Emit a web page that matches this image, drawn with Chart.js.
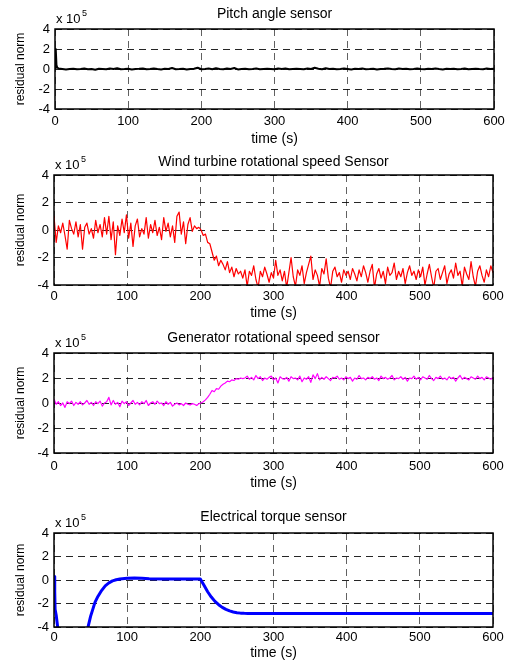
<!DOCTYPE html>
<html><head><meta charset="utf-8">
<script src="https://cdn.jsdelivr.net/npm/chart.js@4.4.1/dist/chart.umd.min.js"></script>
<style>
html,body{margin:0;padding:0;background:#fff;}
#wrap{position:relative;width:512px;height:662px;overflow:hidden;}
canvas{position:absolute;left:0;display:block;}
</style></head><body>
<div id="wrap">
<canvas id="c1" width="512" height="148" style="top:0px"></canvas>
<canvas id="c2" width="512" height="177" style="top:148px"></canvas>
<canvas id="c3" width="512" height="175" style="top:325px"></canvas>
<canvas id="c4" width="512" height="162" style="top:500px"></canvas>
</div>
<script>
// ---------------- DATA (values in units of 10^5) ----------------
const titles = ["Pitch angle sensor", "Wind turbine rotational speed Sensor", "Generator rotational speed sensor", "Electrical torque sensor"];
const xTicks = [0, 100, 200, 300, 400, 500, 600];
const yTicks = [-4, -2, 0, 2, 4];
const xLabel = "time (s)";
const yLabel = "residual norm";

// Pitch angle sensor: initial spike then flat noise
const pitchSpikeTime = [0, 1, 2, 3];
const pitchSpikeValue = [0.1, 2.0, 0.4, 0.15];
const pitchNoiseStart = 5, pitchNoiseStep = 5;
const pitchNoise = [
 0.05,0.0,-0.05,0.0,0.03,-0.03,0.0,0.05,-0.02,0.0,
 -0.08,0.02,0.0,-0.03,0.05,0.0,0.08,-0.02,0.0,0.03,
 -0.05,0.0,0.02,0.05,-0.03,0.0,0.06,0.0,-0.04,0.02,
 0.0,0.1,-0.02,0.0,0.03,-0.05,0.0,0.02,0.12,-0.03,
 0.0,0.04,-0.02,0.08,0.0,-0.03,0.05,0.0,0.1,-0.04,
 0.0,0.03,-0.02,0.0,0.05,-0.03,0.0,0.02,0.0,-0.02,
 0.04,0.0,0.06,-0.03,0.0,0.02,0.0,-0.02,0.05,0.0,
 0.12,0.03,-0.02,0.08,0.0,0.02,-0.03,0.0,0.04,0.0,
 -0.04,0.02,0.0,0.05,-0.02,0.0,0.03,-0.05,0.0,0.02,
 0.06,0.0,-0.03,0.04,0.0,0.02,-0.02,0.0,0.05,0.0,
 -0.03,0.02,0.0,0.06,0.0,-0.04,0.03,0.0,0.02,-0.02,
 0.0,0.05,-0.03,0.0,0.03,0.0,-0.02,0.04,0.0,0.02];

// Wind turbine rotational speed sensor (sampled every 3 s, 0..600)
const windStep = 3;
const windValues = [
 1.0,-0.9,0.3,-0.2,0.5,-0.4,-1.4,0.7,0.1,-0.3,
 0.6,-0.5,0.4,-1.4,0.2,0.5,-0.3,0.1,-0.6,0.7,
 -0.2,0.4,-0.5,0.9,-0.3,1.0,-0.7,0.6,-1.8,0.3,
 -0.4,0.8,-0.2,1.1,-0.6,0.5,-1.2,0.3,0.8,-0.5,
 0.1,-0.3,0.9,-0.6,0.4,-0.2,0.7,-0.4,0.2,-0.7,
 0.9,-0.1,0.5,-0.5,0.3,-0.9,1.0,1.3,-0.3,0.6,
 -1.0,0.4,0.9,-0.1,0.3,0.1,0.2,
 0.0,-0.4,-0.3,-0.9,-1.0,-1.6,-2.2,-1.9,-2.6,-2.2,
 -2.5,-2.9,-2.3,-3.1,-2.7,-3.4,-2.8,-3.2,-3.0,-3.5,
 -2.9,-4.1,-3.0,-3.3,-2.6,-3.6,-4.2,-3.0,-3.4,-2.7,
 -3.2,-3.8,-3.1,-3.5,-2.2,-3.3,-2.9,-3.7,-3.0,-4.2,
 -3.1,-2.0,-3.4,-4.1,-2.9,-3.3,-2.6,-3.9,-3.1,-2.5,
 -1.9,-3.6,-2.9,-3.3,-4.1,-2.8,-3.2,-2.1,-3.5,-4.2,
 -3.0,-2.7,-3.4,-3.1,-3.8,-2.9,-3.3,-3.0,-3.6,-2.8,
 -3.2,-3.7,-2.9,-3.4,-2.6,-3.1,-3.8,-3.0,-2.5,-4.2,
 -3.2,-2.8,-3.5,-3.0,-3.9,-2.7,-3.3,-3.1,-2.4,-3.6,
 -3.0,-3.4,-2.8,-3.9,-3.1,-2.6,-3.3,-3.0,-3.6,-2.9,
 -3.4,-2.7,-4.0,-3.2,-2.5,-3.4,-4.2,-3.0,-2.8,-3.6,
 -3.1,-2.6,-3.9,-3.2,-2.9,-3.5,-2.4,-3.3,-3.0,-4.1,
 -2.7,-3.2,-3.6,-2.3,-3.4,-4.1,-3.0,-2.6,-3.3,-3.8,
 -2.9,-3.4,-2.6,-3.1];

// Generator rotational speed sensor (sampled every 3 s, 0..600)
const genStep = 3;
const genValues = [
 0.3,-0.1,0.1,-0.2,0.0,-0.35,0.1,-0.05,0.15,-0.2,
 0.05,-0.1,0.1,-0.15,0.0,0.2,-0.1,0.05,-0.2,0.1,
 -0.05,0.15,-0.25,0.0,0.1,0.45,-0.15,0.2,-0.1,0.05,
 -0.3,0.15,-0.05,0.1,-0.2,0.0,0.2,-0.1,0.05,-0.15,
 0.1,-0.05,0.2,-0.2,0.0,0.1,-0.1,0.15,-0.05,0.0,
 -0.2,0.1,-0.1,0.05,-0.25,-0.1,0.0,-0.15,-0.05,-0.2,
 0.0,-0.1,-0.15,-0.05,-0.1,-0.2,-0.05,
 0.0,0.1,0.25,0.45,0.7,1.0,0.9,1.15,1.1,1.35,
 1.5,1.6,1.75,1.7,1.85,1.8,1.95,1.9,2.0,1.95,
 2.0,2.15,1.9,2.05,1.85,2.2,1.95,2.1,1.8,2.0,
 1.9,2.05,2.15,1.85,2.0,1.6,2.1,1.95,1.9,2.05,
 1.75,2.1,1.95,2.0,1.85,2.15,1.7,2.0,1.9,2.1,
 1.65,2.25,1.95,2.35,1.85,2.05,1.9,2.1,1.95,1.8,
 2.05,2.0,2.15,1.9,2.0,1.85,2.1,1.95,2.05,1.75,
 2.0,1.9,2.2,1.95,2.0,1.85,2.05,1.95,2.1,1.9,
 2.0,1.8,2.15,1.95,2.05,1.9,2.0,2.2,1.85,2.0,
 1.95,2.1,1.9,2.05,1.75,2.0,1.95,2.15,1.9,2.05,
 1.85,2.1,2.0,1.9,2.2,1.95,1.8,2.05,1.95,2.15,
 1.9,2.0,1.85,2.1,1.95,2.05,1.75,2.0,2.2,1.9,
 2.05,1.95,1.85,2.1,2.0,1.9,2.15,1.95,2.05,1.85,
 2.1,2.0,1.9,2.05];

// Electrical torque sensor (irregular samples)
const torqueTime = [0,1,1.5,3,5,8,15,30,40,44,
 46.5,50,53,56,60,65,70,75,80,85,
 90,100,110,120,130,150,180,200,205,210,
 215,220,225,230,235,240,245,250,255,260,
 265,270,300,400,500,600];
const torqueValue = [0.3,-1.0,-2.5,-3.0,-4.0,-6,-9,-10,-9,-6,
 -4.0,-3.1,-2.5,-1.9,-1.4,-0.9,-0.5,-0.25,-0.08,0.02,
 0.08,0.15,0.18,0.15,0.1,0.08,0.08,0.08,-0.45,-1.0,
 -1.45,-1.82,-2.1,-2.33,-2.5,-2.63,-2.72,-2.78,-2.82,-2.84,
 -2.85,-2.85,-2.85,-2.85,-2.85,-2.85];

// ---------------- build points ----------------
function regular(values, start, step){ return values.map((v,i)=>({x:start+i*step, y:v})); }
function paired(ts, vs){ return ts.map((t,i)=>({x:t, y:vs[i]})); }
const pitchPts = paired(pitchSpikeTime, pitchSpikeValue).concat(regular(pitchNoise, pitchNoiseStart, pitchNoiseStep));
const windPts = regular(windValues, 0, windStep);
const genPts = regular(genValues, 0, genStep);
const torquePts = paired(torqueTime, torqueValue);

const FONT = "'Liberation Sans', Arial, Helvetica, sans-serif";

const framePlugin = {
  id: 'frame',
  afterDraw(chart){
    const {ctx, chartArea:a} = chart;
    ctx.save();
    ctx.strokeStyle = '#000';
    ctx.lineWidth = 1.5;
    ctx.strokeRect(a.left, a.top, a.right - a.left, a.bottom - a.top);
    // exponent label
    ctx.fillStyle = '#000';
    ctx.textBaseline = 'alphabetic';
    ctx.textAlign = 'left';
    ctx.font = '13px ' + FONT;
    const base = a.top - 6.5;
    ctx.fillText('x 10', a.left + 1, base);
    const w = ctx.measureText('x 10').width;
    ctx.font = '9px ' + FONT;
    ctx.fillText('5', a.left + 1 + w + 1.5, base - 7);
    ctx.restore();
  }
};

function makeChart(id, cfg){
  const el = document.getElementById(id);
  const H = el.height;
  return new Chart(el, {
    type: 'line',
    data: { datasets: [{
      data: cfg.points, borderColor: cfg.color, borderWidth: cfg.width,
      pointRadius: 0, tension: 0, fill: false, clip: 0, borderJoinStyle: 'round', borderCapStyle: 'round'
    }]},
    options: {
      responsive: false, animation: false, devicePixelRatio: 1,
      layout: { padding: { left: 0, right: 512 - cfg.right, top: 0, bottom: 0 } },
      plugins: {
        legend: { display: false }, tooltip: { enabled: false },
        title: { display: true, fullSize: false, text: cfg.title, color: '#000',
          font: { family: FONT, size: 14, weight: 'normal', lineHeight: 1.2 },
          padding: { top: cfg.titleCenter - 8.4, bottom: cfg.top - cfg.titleCenter - 8.4 } }
      },
      scales: {
        x: {
          type: 'linear', min: 0, max: 600,
          afterBuildTicks: s => { s.ticks = xTicks.map(v => ({value: v})); },
          ticks: { color: '#000', font: { family: FONT, size: 13 }, padding: cfg.xTickPad, maxRotation: 0, autoSkip: false },
          grid: { color: 'rgba(0,0,0,0.62)', lineWidth: 1, drawTicks: false, borderDash: [7,5] },
          border: { display: false, dash: [7,5] },
          title: { display: true, text: xLabel, color: '#000', font: { family: FONT, size: 14, lineHeight: 1.2 },
            padding: { top: 0, bottom: cfg.xTitleFromBottom - 8.4 } },
          afterFit: s => { s.height = H - cfg.bottom; }
        },
        y: {
          type: 'linear', min: -4, max: 4,
          afterBuildTicks: s => { s.ticks = yTicks.map(v => ({value: v})); },
          ticks: { color: '#000', font: { family: FONT, size: 13 }, padding: 5 },
          grid: { color: 'rgba(0,0,0,0.85)', lineWidth: 1, drawTicks: false, borderDash: [7,5] },
          border: { display: false, dash: [7,5] },
          title: { display: true, text: yLabel, color: '#000', font: { family: FONT, size: 12, lineHeight: 1.2 },
            padding: { top: 21 - 7.2, bottom: 0 } },
          afterFit: s => { s.width = cfg.left; }
        }
      }
    },
    plugins: [framePlugin]
  });
}

makeChart('c1', { points: pitchPts, color: '#000000', width: 2, title: titles[0],
  left: 55, right: 494, top: 29, bottom: 109, titleCenter: 14, xTickPad: 4.5, xTitleFromBottom: 8.5 });
makeChart('c2', { points: windPts, color: '#ff0000', width: 1.2, title: titles[1],
  left: 54, right: 493, top: 27, bottom: 137, titleCenter: 13.7, xTickPad: 3.5, xTitleFromBottom: 12 });
makeChart('c3', { points: genPts, color: '#ff00ff', width: 1.2, title: titles[2],
  left: 54, right: 493, top: 28, bottom: 128, titleCenter: 13.3, xTickPad: 5.5, xTitleFromBottom: 17.3 });
makeChart('c4', { points: torquePts, color: '#0000ff', width: 3, title: titles[3],
  left: 54, right: 493, top: 33, bottom: 127, titleCenter: 17.3, xTickPad: 3, xTitleFromBottom: 8.7 });
</script>
</body></html>
